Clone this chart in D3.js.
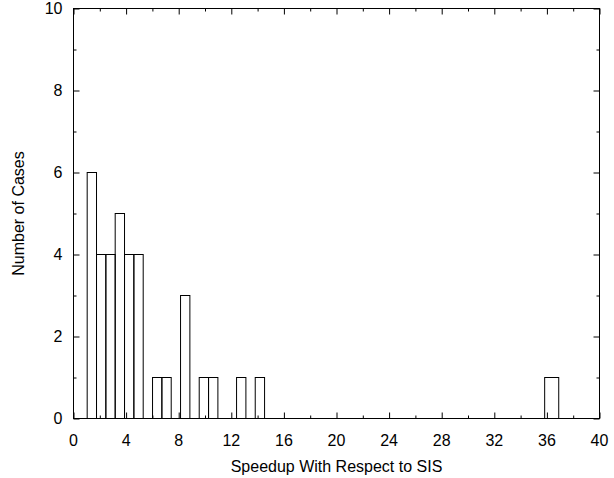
<!DOCTYPE html>
<html lang="en">
<head>
	<meta charset="utf-8">
	<title>Speedup histogram</title>
	<script src="https://d3js.org/d3.v7.min.js"></script>
	<style type="text/css">
		body { margin: 0; background: #fff; }
		.label { font: 16px "Liberation Sans", Arial, sans-serif; fill: #000; }
	</style>
</head>
<body>
	<script type="text/javascript">

	// window size
	var w = 614;
	var h = 478;

	// data: histogram bins (lower edge, upper edge in speedup units) and counts
	var binStart = [1.04, 1.75, 2.46, 3.17, 3.88, 4.59, 6.01, 6.72, 8.14, 9.56, 10.27, 12.40, 13.82, 35.83];
	var binEnd   = [1.75, 2.46, 3.17, 3.88, 4.59, 5.30, 6.72, 7.43, 8.85, 10.27, 10.98, 13.11, 14.53, 36.90];
	var counts   = [6, 4, 4, 5, 4, 4, 1, 1, 3, 1, 1, 1, 1, 1];

	var xTicks = [0, 4, 8, 12, 16, 20, 24, 28, 32, 36, 40];
	var yTicks = [0, 2, 4, 6, 8, 10];
	var xMinor = d3.range(2, 40, 4);
	var yMinor = d3.range(1, 10, 2);

	var bins = binStart.map(function(s, i){ return {x0: s, x1: binEnd[i], n: counts[i]} });

	// plot box (note: "top" is reserved on window, so use pad names)
	var padL = 73.5, padR = 599.5, padT = 8.5, padB = 418.5;
	var xScale = d3.scaleLinear().domain([0, 40]).range([padL, padR]);
	var yScale = d3.scaleLinear().domain([0, 10]).range([padB, padT]);

	var svg = d3.select("body")
				.append("svg")
				.attr("width", w)
				.attr("height", h);

	// bars
	svg.append("g")
		.selectAll("rect")
		.data(bins)
		.enter()
		.append("rect")
		.attr("x", d => xScale(d.x0))
		.attr("y", d => yScale(d.n))
		.attr("width", d => xScale(d.x1) - xScale(d.x0))
		.attr("height", d => yScale(0) - yScale(d.n))
		.attr("fill", "none")
		.attr("stroke", "#000")
		.attr("stroke-width", 1);

	// ticks, drawn inward on all four sides
	function drawTicks(g, axis, len){
		g.call(axis.tickSizeInner(len).tickSizeOuter(0).tickFormat(""));
		g.select(".domain").remove();
		g.selectAll("line").attr("stroke", "#000");
	}
	function tickGroup(tx, ty, axis, len){
		svg.append("g")
			.attr("transform", "translate(" + tx + "," + ty + ")")
			.call(g => drawTicks(g, axis, len));
	}

	tickGroup(0, padB, d3.axisTop(xScale).tickValues(xTicks), 6);
	tickGroup(0, padB, d3.axisTop(xScale).tickValues(xMinor), 3);
	tickGroup(0, padT, d3.axisBottom(xScale).tickValues(xTicks), 6);
	tickGroup(0, padT, d3.axisBottom(xScale).tickValues(xMinor), 3);
	tickGroup(padL, 0, d3.axisRight(yScale).tickValues(yTicks), 6);
	tickGroup(padL, 0, d3.axisRight(yScale).tickValues(yMinor), 3);
	tickGroup(padR, 0, d3.axisLeft(yScale).tickValues(yTicks), 6);
	tickGroup(padR, 0, d3.axisLeft(yScale).tickValues(yMinor), 3);

	// frame
	svg.append("rect")
		.attr("x", padL).attr("y", padT)
		.attr("width", padR - padL).attr("height", padB - padT)
		.attr("fill", "none").attr("stroke", "#000").attr("stroke-width", 1);

	// tick labels
	svg.append("g")
		.selectAll("text")
		.data(xTicks)
		.enter()
		.append("text")
		.attr("class", "label")
		.attr("x", d => xScale(d))
		.attr("y", padB + 27)
		.attr("text-anchor", "middle")
		.text(d => d);

	svg.append("g")
		.selectAll("text")
		.data(yTicks)
		.enter()
		.append("text")
		.attr("class", "label")
		.attr("x", padL - 11)
		.attr("y", d => yScale(d))
		.attr("dy", "0.36em")
		.attr("text-anchor", "end")
		.text(d => d);

	// axis titles
	svg.append("text")
		.attr("class", "label")
		.attr("x", (padL + padR) / 2)
		.attr("y", 472)
		.attr("text-anchor", "middle")
		.text("Speedup With Respect to SIS");

	svg.append("text")
		.attr("class", "label")
		.attr("transform", "translate(24," + (padT + padB) / 2 + ") rotate(-90)")
		.attr("text-anchor", "middle")
		.text("Number of Cases");

	</script>
</body>
</html>
